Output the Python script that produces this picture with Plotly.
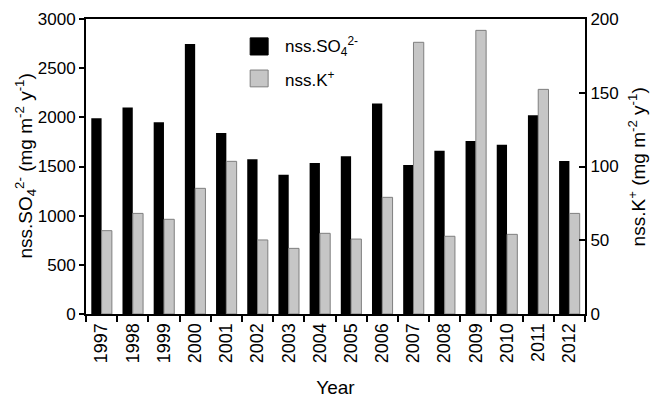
import plotly.graph_objects as go

# Annual non-sea-salt deposition fluxes
years = ["1997", "1998", "1999", "2000", "2001", "2002", "2003", "2004",
         "2005", "2006", "2007", "2008", "2009", "2010", "2011", "2012"]
so4 = [1990, 2100, 1950, 2745, 1840, 1575, 1415, 1535,
       1605, 2140, 1515, 1660, 1760, 1720, 2020, 1555]
k = [56.5, 68.2, 64.2, 85.2, 103.5, 50.2, 44.5, 54.7,
     50.8, 79.1, 184.2, 52.7, 192.3, 54.0, 152.3, 68.2]

so4_label = "nss.SO<sub>4</sub><sup>2-</sup>"
k_label = "nss.K<sup>+</sup>"
unit = " (mg m<sup>-2</sup> y<sup>-1</sup>)"
so4_color = "#000000"
k_color = "#c6c6c6"
k_edge = "#7f7f7f"

font = "Liberation Sans, Arial, sans-serif"

fig = go.Figure()
fig.add_trace(go.Bar(x=years, y=so4, name=so4_label, offsetgroup="a",
                     marker=dict(color=so4_color, line=dict(width=0)),
                     yaxis="y"))
fig.add_trace(go.Bar(x=years, y=k, name=k_label, offsetgroup="b",
                     marker=dict(color=k_color, line=dict(color=k_edge, width=1)),
                     yaxis="y2"))

axis_common = dict(showline=True, linecolor="black", linewidth=2,
                   showgrid=False, zeroline=False, ticks="outside",
                   tickwidth=2, tickcolor="black", automargin=False,
                   tickfont=dict(family=font, size=17, color="black"))

fig.update_layout(
    width=650, height=399,
    margin=dict(l=86, r=65, t=19, b=85),
    paper_bgcolor="white", plot_bgcolor="white",
    barmode="group", bargap=0.34, bargroupgap=0,
    showlegend=False,
    font=dict(family=font, color="black"),
    xaxis=dict(**{**axis_common, "tickfont": dict(family=font, size=18, color="black")},
               type="category", tickson="boundaries",
               ticklen=6, tickangle=-90, mirror=True,
               title=dict(text="Year", font=dict(family=font, size=19),
                          standoff=18)),
    yaxis=dict(**axis_common, range=[0, 3000], dtick=500, ticklen=5),
    yaxis2=dict(**{**axis_common, "ticks": "inside"}, range=[0, 200], dtick=50,
                ticklen=6, overlaying="y", side="right"),
)

# Axis titles placed beside the tick labels
for text, xpos in [(so4_label + unit, -0.122), (k_label + unit, 1.104)]:
    fig.add_annotation(text=text, xref="paper", yref="paper",
                       x=xpos, y=0.5, xanchor="center", yanchor="middle",
                       textangle=-90, showarrow=False,
                       font=dict(family=font, size=19, color="black"))

# Legend drawn as swatches with labels
swatches = [(so4_label, so4_color, so4_color, 0.936, 0.878, 0.907),
            (k_label, k_color, k_edge, 0.827, 0.770, 0.798)]
for label, fill, edge, y1, y0, yc in swatches:
    fig.add_shape(type="rect", xref="paper", yref="paper",
                  x0=0.329, x1=0.365, y0=y0, y1=y1,
                  fillcolor=fill, line=dict(color=edge, width=1))
    fig.add_annotation(text=label, xref="paper", yref="paper",
                       x=0.395, y=yc, xanchor="left", yanchor="middle",
                       showarrow=False, font=dict(family=font, size=17, color="black"))

fig.write_html("out.html")
